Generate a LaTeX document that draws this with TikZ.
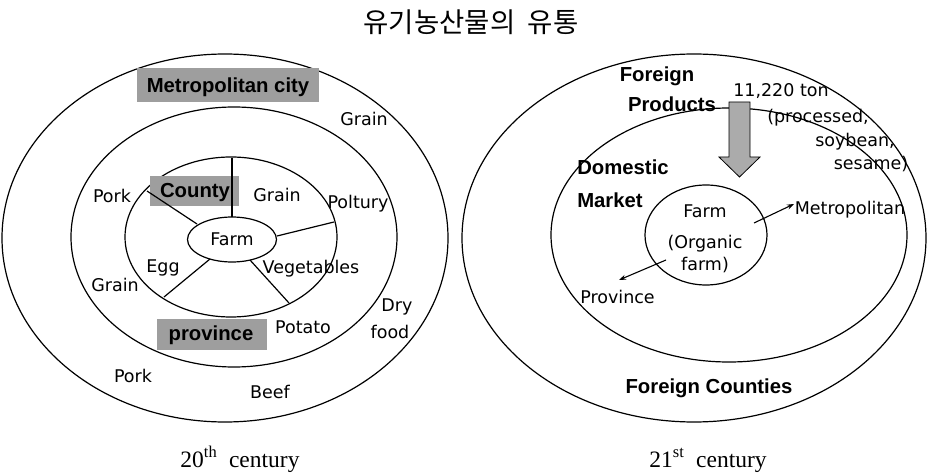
\documentclass[tikz,border=0pt]{standalone}
\usepackage{fontspec}
\usetikzlibrary{shapes.geometric,arrows.meta}
\newfontfamily\labfont{DejaVu Sans}
\newfontfamily\boldfont{Liberation Sans}
\newfontfamily\capfont{Liberation Serif}
\newfontfamily\krfont{Noto Sans CJK KR}
\begin{document}
\begin{tikzpicture}[x=1pt,y=-1pt,
  ring/.style={draw,ellipse,line width=1.2pt,inner sep=0pt},
  lab/.style={inner sep=0pt,anchor=base,font=\labfont\fontsize{17.5}{19}\selectfont},
  blab/.style={inner sep=0pt,anchor=base,font=\boldfont\bfseries\fontsize{20.3}{22}\selectfont},
  captext/.style={inner sep=0pt,anchor=base,font=\capfont\fontsize{23.5}{25}\selectfont},
  spoke/.style={line width=1.2pt},
  flow/.style={line width=1.1pt,-{Stealth[length=7pt,width=5pt]}}]
\useasboundingbox (0,0) rectangle (927,473);
\fill[white] (0,0) rectangle (927,473);
% title
\node[inner sep=0pt,font=\krfont\fontsize{27.5}{29}\selectfont] (title) at (471,22) {유기농산물의\ \ 유통};
% ---------- left: 20th century ----------
\node[ring,minimum width=446pt,minimum height=368pt] (Lout) at (225,238) {};
\node[ring,minimum width=326pt,minimum height=260pt] (Lmid) at (234,237) {};
\node[ring,minimum width=212pt,minimum height=160pt] (Lin) at (231,237) {};
\node[ring,minimum width=89pt,minimum height=45pt] (Lfarm) at (232,239.5) {};
% shaded label boxes
\fill[black!38] (137,68) rectangle (319,102);
\fill[black!38] (150,176) rectangle (239,206);
\fill[black!38] (157,319) rectangle (267,350);
% spokes
\coordinate (s1a) at (232,217); \coordinate (s1b) at (232,158);
\coordinate (s2a) at (197,224); \coordinate (s2b) at (147,191);
\coordinate (s3a) at (277,236); \coordinate (s3b) at (334,222);
\coordinate (s4a) at (210,259); \coordinate (s4b) at (164,297);
\coordinate (s5a) at (250,260); \coordinate (s5b) at (289,303);
\draw[spoke] (s1a) -- (s1b);
\draw[spoke] (s2a) -- (s2b);
\draw[spoke] (s3a) -- (s3b);
\draw[spoke] (s4a) -- (s4b);
\draw[spoke] (s5a) -- (s5b);
% labels
\node[blab] (metro) at (228,93) {Metropolitan city};
\node[blab] (county) at (195,198) {County};
\node[blab] (prov) at (211,340) {province};
\node[lab] (g1) at (364,126) {Grain};
\node[lab] (pork1) at (112,203) {Pork};
\node[lab] (g2) at (277,202) {Grain};
\node[lab] (polt) at (358,209) {Poltury};
\node[lab] (farmL) at (232,246) {Farm};
\node[lab] (egg) at (163,273) {Egg};
\node[lab] (veg) at (311,274) {Vegetables};
\node[lab] (g3) at (115,292) {Grain};
\node[lab] (dry) at (397,312) {Dry};
\node[lab] (food) at (390,338) {food};
\node[lab] (pot) at (303,334) {Potato};
\node[lab] (pork2) at (133,382) {Pork};
\node[lab] (beef) at (270,398) {Beef};
\node[captext] (c20) at (240,467) {20\textsuperscript{th}\ \ century};
% ---------- right: 21st century ----------
\node[ring,minimum width=464pt,minimum height=368pt] (Rout) at (694,238) {};
\node[ring,minimum width=356pt,minimum height=254pt] (Rmid) at (729,235) {};
\node[ring,minimum width=122pt,minimum height=100pt] (Rfarm) at (706,235) {};
% big import arrow
\filldraw[fill=black!33,draw=black,line width=0.8pt]
  (729,102) -- (750,102) -- (750,157) -- (760,157) -- (739.5,177) -- (719,157) -- (729,157) -- cycle;
\node[blab] (fore) at (657,82) {Foreign};
\node[blab] (prod) at (672,112) {Products};
\node[lab] (ton) at (781,97) {11,220 ton};
\node[lab] (proc) at (818,123) {(processed,};
\node[lab] (soy) at (855,147) {soybean,};
\node[lab] (ses) at (871,170) {sesame)};
\node[blab] (dom) at (623,175) {Domestic};
\node[blab] (mkt) at (610,208) {Market};
\node[lab] (farmR) at (705,218) {Farm};
\node[lab] (org) at (705,249) {(Organic};
\node[lab] (orgf) at (705,271) {farm)};
\node[lab] (metR) at (850,215) {Metropolitan};
\node[lab] (provR) at (617.5,304) {Province};
\node[blab] (fc) at (709,393) {Foreign Counties};
\coordinate (m1) at (754,223); \coordinate (m2) at (794,204);
\coordinate (p1) at (666,260); \coordinate (p2) at (619,280);
\draw[flow] (m1) -- (m2);
\draw[flow] (p1) -- (p2);
\node[captext] (c21) at (708,467) {21\textsuperscript{st}\ \ century};
\end{tikzpicture}
\end{document}
